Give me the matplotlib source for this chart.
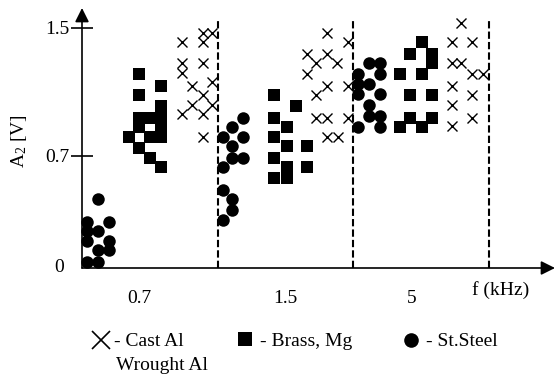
import matplotlib
matplotlib.use('Agg')
import matplotlib.pyplot as plt

plt.rcParams['font.family'] = ['Liberation Serif', 'DejaVu Serif']
plt.rcParams['mathtext.default'] = 'regular'
plt.rcParams['font.size'] = 14

# frequency bands (x positions are in "band" units, one band per frequency)
freq_labels = ['0.7', '1.5', '5']
freq_label_pos = [0.42, 1.5, 2.43]
band_edges = [1, 2, 3]
y_ticks = [0.7, 1.5]

# Cast Al / Wrought Al  (crosses)
cast_x = [0.74, 0.89, 0.89, 0.96, 0.74, 0.89, 0.74, 0.81, 0.89, 0.96, 0.96, 0.81, 0.74, 0.89, 0.89,
          1.81, 1.96, 1.66, 1.81, 1.73, 1.88, 1.66, 1.81, 1.73, 1.96, 1.73, 1.81, 1.96, 1.81, 1.89,
          2.80, 2.73, 2.88, 2.73, 2.80, 2.88, 2.96, 2.73, 2.88, 2.73, 2.88, 2.73]
cast_y = [1.41, 1.41, 1.47, 1.47, 1.28, 1.28, 1.22, 1.14, 1.08, 1.02, 1.16, 1.02, 0.96, 0.96, 0.82,
          1.47, 1.41, 1.34, 1.34, 1.28, 1.28, 1.21, 1.14, 1.08, 1.14, 0.94, 0.94, 0.94, 0.82, 0.82,
          1.53, 1.41, 1.41, 1.28, 1.28, 1.21, 1.21, 1.14, 1.08, 1.02, 0.94, 0.89]

# Brass, Mg  (squares)
brass_x = [0.42, 0.58, 0.42, 0.58, 0.42, 0.50, 0.58, 0.42, 0.58, 0.35, 0.50, 0.58, 0.42, 0.50, 0.58,
           1.42, 1.58, 1.42, 1.51, 1.42, 1.51, 1.66, 1.42, 1.51, 1.66, 1.42, 1.51,
           2.51, 2.42, 2.58, 2.58, 2.35, 2.51, 2.42, 2.58, 2.42, 2.58, 2.35, 2.51]
brass_y = [1.21, 1.14, 1.08, 1.01, 0.94, 0.94, 0.94, 0.88, 0.88, 0.82, 0.82, 0.82, 0.75, 0.69, 0.63,
           1.08, 1.01, 0.94, 0.88, 0.82, 0.76, 0.76, 0.69, 0.63, 0.63, 0.56, 0.56,
           1.41, 1.34, 1.34, 1.28, 1.21, 1.21, 1.08, 1.08, 0.94, 0.94, 0.88, 0.88]

# St.Steel  (circles)
steel_x = [0.12, 0.04, 0.20, 0.12, 0.04, 0.04, 0.20, 0.12, 0.20, 0.04, 0.12,
           1.19, 1.11, 1.04, 1.19, 1.11, 1.11, 1.19, 1.04, 1.04, 1.11, 1.11, 1.04,
           2.12, 2.20, 2.04, 2.20, 2.04, 2.12, 2.04, 2.20, 2.12, 2.12, 2.20, 2.04, 2.20]
steel_y = [0.43, 0.29, 0.29, 0.23, 0.23, 0.17, 0.17, 0.11, 0.11, 0.04, 0.04,
           0.94, 0.88, 0.82, 0.82, 0.76, 0.69, 0.69, 0.63, 0.49, 0.43, 0.36, 0.30,
           1.28, 1.28, 1.21, 1.21, 1.15, 1.15, 1.09, 1.09, 1.02, 0.95, 0.95, 0.88, 0.88]

legend_labels = ['- Cast Al', 'Wrought Al', '- Brass, Mg', '- St.Steel']

W, H = 555, 376
fig = plt.figure(figsize=(W / 100, H / 100), dpi=100)
ax = fig.add_axes([82 / W, (H - 268) / H, 473 / W, 260 / H])
ax.set_xlim(0, 473 / 135.5)
ax.set_ylim(0, 260 / 160)
for s in ax.spines.values():
    s.set_visible(False)

# axes with arrow heads
arrow = dict(arrowstyle='-|>,head_length=0.6,head_width=0.3', color='k', lw=1.2,
             mutation_scale=14, shrinkA=0, shrinkB=0)
ax.annotate('', xy=(1, 0), xytext=(0, 0), xycoords='axes fraction', arrowprops=arrow)
ax.annotate('', xy=(0, 1), xytext=(0, 0), xycoords='axes fraction', arrowprops=arrow)

ax.vlines(band_edges, 0, 1.5625, colors='k', linestyles=(0, (3.5, 1.5)), lw=1.5)

ax.plot(steel_x, steel_y, 'o', color='k', ms=9.0, mew=0, clip_on=False)
ax.plot(brass_x, brass_y, 's', color='k', ms=8.4, mew=0, clip_on=False)
ax.plot(cast_x, cast_y, 'x', color='k', ms=7.6, mew=1.0, clip_on=False)

ax.set_yticks(y_ticks, [str(v) for v in y_ticks])
ax.tick_params(axis='y', direction='inout', length=15.5, width=1.2, pad=1)
ax.set_xticks(freq_label_pos, freq_labels)
ax.tick_params(axis='x', length=0, pad=16)
ax.text(-0.13, 0, '0', ha='right', va='center')
ax.text(3.09, -0.14, 'f (kHz)', ha='center', va='center', clip_on=False)
fig.text(19 / W, 1 - 141 / H, 'A$_2$ [V]', rotation=90, ha='center', va='center')

# legend drawn in pixel space below the axes
leg = fig.add_axes([0, 0, 1, 1])
leg.set_xlim(0, W)
leg.set_ylim(H, 0)
leg.axis('off')
leg.plot([101], [340], 'x', color='k', ms=13, mew=1.2)
leg.plot([245], [339], 's', color='k', ms=10, mew=0)
leg.plot([411], [340], 'o', color='k', ms=10.5, mew=0)
leg.text(114, 340, legend_labels[0], ha='left', va='center_baseline')
leg.text(116, 363, legend_labels[1], ha='left', va='center_baseline')
leg.text(260, 339, legend_labels[2], ha='left', va='center_baseline')
leg.text(426, 340, legend_labels[3], ha='left', va='center_baseline')

fig.savefig('out.png', dpi=100)
